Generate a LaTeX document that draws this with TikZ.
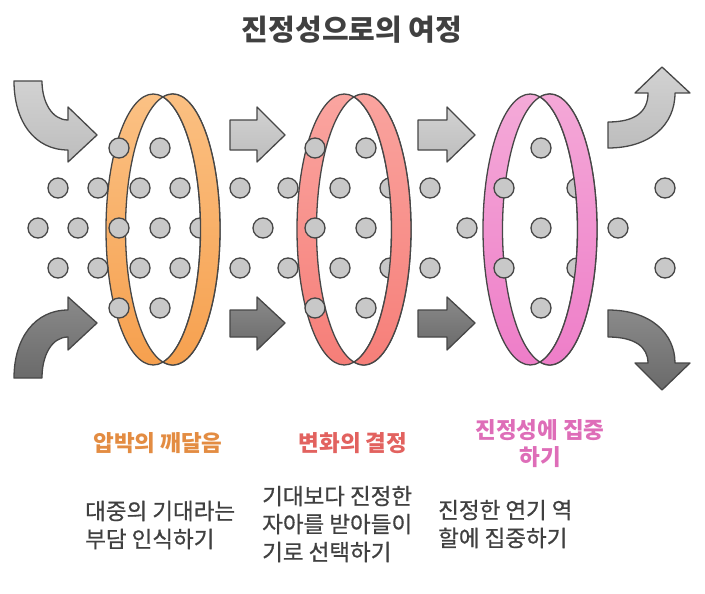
\documentclass[tikz,border=0pt]{standalone}
\usepackage{fontspec}
\setmainfont{Noto Sans CJK KR}
\newfontfamily\krmed[FakeBold=0.7]{Noto Sans CJK KR}
\definecolor{txt}{HTML}{404040}
\definecolor{edge}{HTML}{474747}
\definecolor{dotc}{HTML}{C8C8C8}
\definecolor{oT}{HTML}{FBC184}\definecolor{oB}{HTML}{F6A04E}
\definecolor{rT}{HTML}{FAA5A0}\definecolor{rB}{HTML}{F67E78}
\definecolor{pT}{HTML}{F4AAD8}\definecolor{pB}{HTML}{EE7DC8}
\definecolor{lT}{HTML}{D2D2D2}\definecolor{lB}{HTML}{BDBDBD}
\definecolor{dT}{HTML}{8A8A8A}\definecolor{dB}{HTML}{6A6A6A}
\definecolor{labO}{HTML}{E38C42}\definecolor{labR}{HTML}{E2625F}\definecolor{labP}{HTML}{DE6DB8}
\newcommand{\myring}[3]{%
 \pgfmathsetmacro{\rgL}{#1-9.75}\pgfmathsetmacro{\rgR}{#1+9.75}
 \fill[top color=#2,bottom color=#3] (\rgL,229.5) ellipse[x radius=47.25,y radius=135.5];
 \fill[top color=#2,bottom color=#3] (\rgR,229.5) ellipse[x radius=47.25,y radius=135.5];
 \fill[white] (#1,96.9) arc[start angle=-78.1,end angle=78.1,x radius=47.25,y radius=135.5]
   arc[start angle=101.9,end angle=258.1,x radius=47.25,y radius=135.5] -- cycle;
 \draw[edge,line width=1.3pt] (\rgL,229.5) ellipse[x radius=47.25,y radius=135.5];
 \draw[edge,line width=1.3pt] (\rgR,229.5) ellipse[x radius=47.25,y radius=135.5];
}
\newcommand{\mycres}[3]{%
 \filldraw[top color=#2,bottom color=#3,draw=edge,line width=1.3pt] (#1,96.9)
   arc[start angle=-101.9,end angle=101.9,x radius=47.25,y radius=135.5]
   arc[start angle=78.1,end angle=-78.1,x radius=47.25,y radius=135.5] -- cycle;
}
\tikzset{
 dotst/.style={fill=dotc,draw=edge,line width=1.3pt},
 light/.style={top color=lT,bottom color=lB,draw=edge,line width=1.3pt,line join=round},
 dark/.style={top color=dT,bottom color=dB,draw=edge,line width=1.3pt,line join=round},
 lab/.style={font=\fontsize{22.5}{27}\selectfont\bfseries,align=center},
 desc/.style={font=\krmed\fontsize{22.5}{28}\selectfont,text=txt,align=left,anchor=west,inner sep=0pt}
}
\begin{document}
\begin{tikzpicture}[x=1pt,y=-1pt]
\useasboundingbox (0,0) rectangle (705,594);
\node[font=\fontsize{29}{32}\selectfont\bfseries,text=txt] (title) at (352,30) {진정성으로의 여정};
% rings
\myring{163}{oT}{oB}
\myring{354}{rT}{rB}
\myring{540}{pT}{pB}
% dots
\foreach \x in {119,160,315,366,541}{\draw[dotst] (\x,148) circle[radius=10];\draw[dotst] (\x,308) circle[radius=10];}
\foreach \x in {58,98,140,180,240,288,340,390,430,504,577,665}{\draw[dotst] (\x,188) circle[radius=10];\draw[dotst] (\x,268) circle[radius=10];}
\foreach \x in {38,78,119,160,200,263,315,366,467,541,618}{\draw[dotst] (\x,228) circle[radius=10];}
% front crescents
\mycres{163}{oT}{oB}
\mycres{354}{rT}{rB}
\mycres{540}{pT}{pB}
% straight arrows
\foreach \a/\b in {230/257,418/447}{
 \draw[light] (\a,120) -- (\b,120) -- (\b,107) -- (\b+28,135) -- (\b,162) -- (\b,150) -- (\a,150) -- cycle;
 \draw[dark] (\a,310) -- (\b,310) -- (\b,297) -- (\b+28,323) -- (\b,350) -- (\b,337) -- (\a,337) -- cycle;
}
% curved arrows
\draw[light] (14,81) .. controls (14,122) and (35,150) .. (68,150) -- (68,162) -- (97,135) -- (68,107) -- (68,120) .. controls (52,120) and (42,102) .. (42,81) -- cycle;
\draw[dark] (14,378) .. controls (14,338) and (35,310) .. (68,310) -- (68,297) -- (97,323) -- (68,350) -- (68,337) .. controls (52,337) and (42,355) .. (42,378) -- cycle;
\draw[light] (608,148) .. controls (650,148) and (675,125) .. (675,93) -- (690,93) -- (662,67) -- (635,93) -- (648,93) .. controls (648,112) and (635,122) .. (608,122) -- cycle;
\draw[dark] (608,310) .. controls (650,310) and (675,333) .. (675,363) -- (690,363) -- (662,390) -- (635,363) -- (648,363) .. controls (648,347) and (635,337) .. (608,337) -- cycle;
% labels
\node[lab,text=labO] (l1) at (158,443) {압박의 깨달음};
\node[lab,text=labR] (l2) at (353,443) {변화의 결정};
\node[lab,text=labP] (l3) at (540,444) {진정성에 집중\\하기};
\node[desc] (d1) at (85,525) {대중의 기대라는\\부담 인식하기};
\node[desc] (d2) at (262,524) {기대보다 진정한\\자아를 받아들이\\기로 선택하기};
\node[desc] (d3) at (438,524) {진정한 연기 역\\할에 집중하기};
\end{tikzpicture}
\end{document}
